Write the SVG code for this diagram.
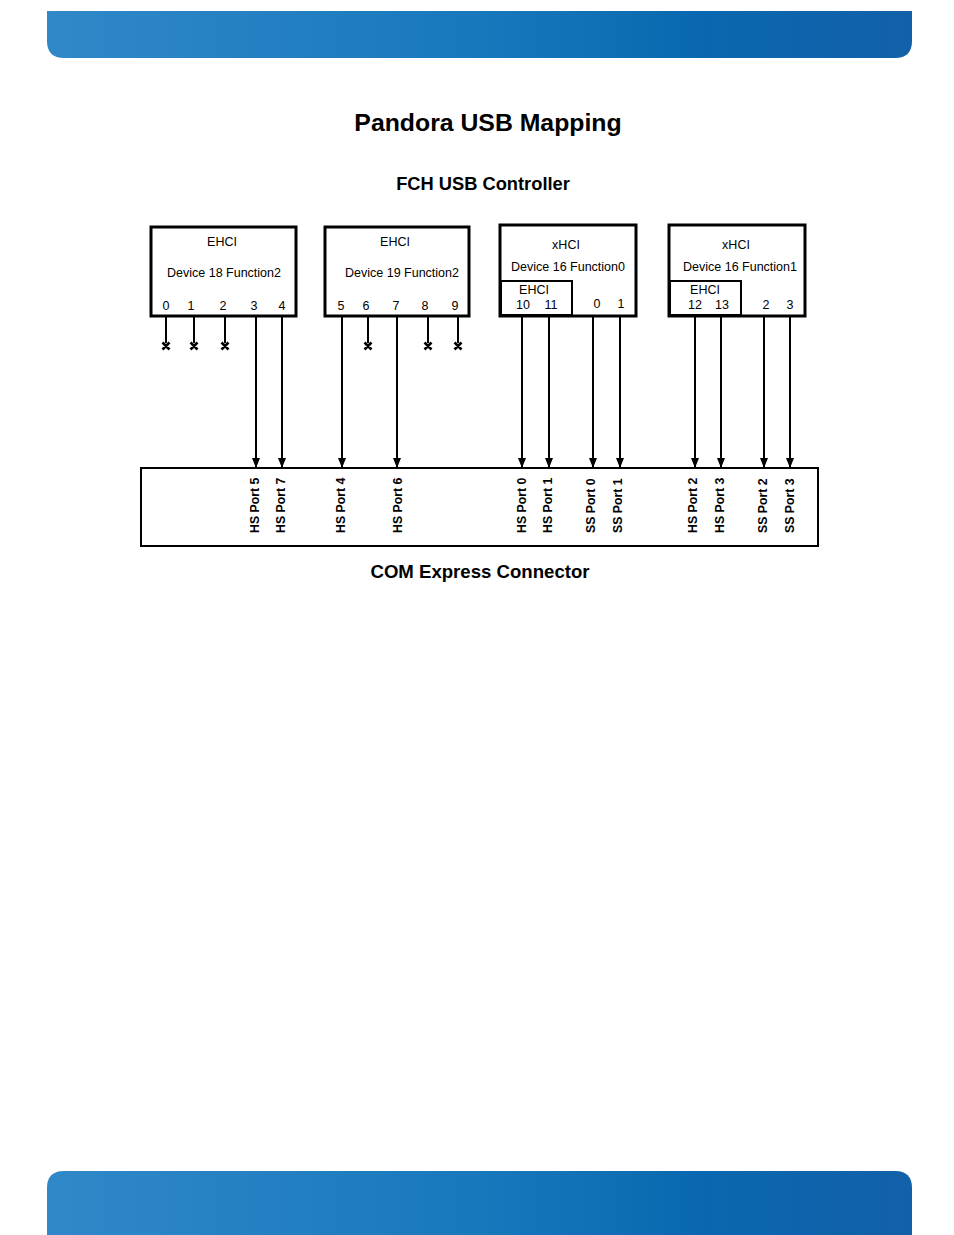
<svg xmlns="http://www.w3.org/2000/svg" width="954" height="1235" viewBox="0 0 954 1235">
<defs>
<linearGradient id="bar" x1="0" y1="0" x2="1" y2="0">
<stop offset="0" stop-color="#3088c8"/>
<stop offset="0.5" stop-color="#1878bc"/>
<stop offset="0.75" stop-color="#0a68b0"/>
<stop offset="1" stop-color="#1260a8"/>
</linearGradient>
<marker id="arr" viewBox="0 0 10 8" refX="10" refY="4" markerWidth="10" markerHeight="8" markerUnits="userSpaceOnUse" orient="auto">
<path d="M0,0 L10,4 L0,8 Z" fill="#000"/>
</marker>
<style>
.box{fill:#fff;stroke:#000;stroke-width:3}
.inner{fill:none;stroke:#000;stroke-width:2}
.t{font-family:"Liberation Sans",Arial,sans-serif;font-size:12.5px;fill:#000;text-anchor:middle}
.lbl{font-family:"Liberation Sans",Arial,sans-serif;font-size:12.3px;font-weight:bold;fill:#000}
.h{font-family:"Liberation Sans",Arial,sans-serif;font-weight:bold;fill:#000;text-anchor:middle}
.ln{stroke:#000;stroke-width:2;fill:none}
.x{stroke:#000;stroke-width:2.6;fill:none}
</style>
</defs>
<rect width="954" height="1235" fill="#fff"/>
<path d="M47,11 H912 V41 Q912,58 895,58 H64 Q47,58 47,41 Z" fill="url(#bar)"/>
<path d="M64,1171 H895 Q912,1171 912,1188 V1235 H47 V1188 Q47,1171 64,1171 Z" fill="url(#bar)"/>
<text class="h" x="488" y="131" font-size="24.8">Pandora USB Mapping</text>
<text class="h" x="483" y="190" font-size="18.3">FCH USB Controller</text>
<text class="h" x="480" y="578" font-size="18.6">COM Express Connector</text>
<g id="connectors">
<path class="ln" d="M166,316 V343 M194,316 V343 M225,316 V343 M368,316 V343 M428,316 V343 M458,316 V343"/>
<path class="x" d="M162.5,342.5 l7,7 m0,-7 l-7,7 M190.5,342.5 l7,7 m0,-7 l-7,7 M221.5,342.5 l7,7 m0,-7 l-7,7 M364.5,342.5 l7,7 m0,-7 l-7,7 M424.5,342.5 l7,7 m0,-7 l-7,7 M454.5,342.5 l7,7 m0,-7 l-7,7"/>
<line class="ln" x1="256" y1="316" x2="256" y2="468" marker-end="url(#arr)"/>
<line class="ln" x1="282" y1="316" x2="282" y2="468" marker-end="url(#arr)"/>
<line class="ln" x1="342" y1="316" x2="342" y2="468" marker-end="url(#arr)"/>
<line class="ln" x1="397" y1="316" x2="397" y2="468" marker-end="url(#arr)"/>
<line class="ln" x1="522" y1="316" x2="522" y2="468" marker-end="url(#arr)"/>
<line class="ln" x1="549" y1="316" x2="549" y2="468" marker-end="url(#arr)"/>
<line class="ln" x1="593" y1="316" x2="593" y2="468" marker-end="url(#arr)"/>
<line class="ln" x1="620" y1="316" x2="620" y2="468" marker-end="url(#arr)"/>
<line class="ln" x1="695" y1="316" x2="695" y2="468" marker-end="url(#arr)"/>
<line class="ln" x1="721" y1="316" x2="721" y2="468" marker-end="url(#arr)"/>
<line class="ln" x1="764" y1="316" x2="764" y2="468" marker-end="url(#arr)"/>
<line class="ln" x1="790" y1="316" x2="790" y2="468" marker-end="url(#arr)"/>
</g>
<g id="ehci18">
<rect class="box" x="151" y="227" width="145" height="89"/>
<text class="t" x="222" y="246">EHCI</text>
<text class="t" x="224" y="277">Device 18 Function2</text>
<text class="t" x="166" y="310">0</text>
<text class="t" x="191" y="310">1</text>
<text class="t" x="223" y="310">2</text>
<text class="t" x="254" y="310">3</text>
<text class="t" x="282" y="310">4</text>
</g>
<g id="ehci19">
<rect class="box" x="325" y="227" width="144" height="89"/>
<text class="t" x="395" y="246">EHCI</text>
<text class="t" x="402" y="277">Device 19 Function2</text>
<text class="t" x="341" y="310">5</text>
<text class="t" x="366" y="310">6</text>
<text class="t" x="396" y="310">7</text>
<text class="t" x="425" y="310">8</text>
<text class="t" x="455" y="310">9</text>
</g>
<g id="xhci0">
<rect class="box" x="500" y="225" width="136" height="91"/>
<rect class="inner" x="501" y="281" width="71" height="34"/>
<text class="t" x="566" y="249">xHCI</text>
<text class="t" x="568" y="271">Device 16 Function0</text>
<text class="t" x="534" y="294">EHCI</text>
<text class="t" x="523" y="309">10</text>
<text class="t" x="551" y="309">11</text>
<text class="t" x="597" y="308">0</text>
<text class="t" x="621" y="308">1</text>
</g>
<g id="xhci1">
<rect class="box" x="669" y="225" width="136" height="91"/>
<rect class="inner" x="670" y="281" width="71" height="34"/>
<text class="t" x="736" y="249">xHCI</text>
<text class="t" x="740" y="271">Device 16 Function1</text>
<text class="t" x="705" y="294">EHCI</text>
<text class="t" x="695" y="309">12</text>
<text class="t" x="722" y="309">13</text>
<text class="t" x="766" y="309">2</text>
<text class="t" x="790" y="309">3</text>
</g>
<g id="comexpress">
<rect x="141" y="468" width="677" height="78" fill="#fff" stroke="#000" stroke-width="2"/>
<text class="lbl" transform="translate(259,533) rotate(-90)">HS Port 5</text>
<text class="lbl" transform="translate(285,533) rotate(-90)">HS Port 7</text>
<text class="lbl" transform="translate(345,533) rotate(-90)">HS Port 4</text>
<text class="lbl" transform="translate(402,533) rotate(-90)">HS Port 6</text>
<text class="lbl" transform="translate(526,533) rotate(-90)">HS Port 0</text>
<text class="lbl" transform="translate(552,533) rotate(-90)">HS Port 1</text>
<text class="lbl" transform="translate(595,533) rotate(-90)">SS Port 0</text>
<text class="lbl" transform="translate(622,533) rotate(-90)">SS Port 1</text>
<text class="lbl" transform="translate(697,533) rotate(-90)">HS Port 2</text>
<text class="lbl" transform="translate(724,533) rotate(-90)">HS Port 3</text>
<text class="lbl" transform="translate(767,533) rotate(-90)">SS Port 2</text>
<text class="lbl" transform="translate(794,533) rotate(-90)">SS Port 3</text>
</g>
</svg>
